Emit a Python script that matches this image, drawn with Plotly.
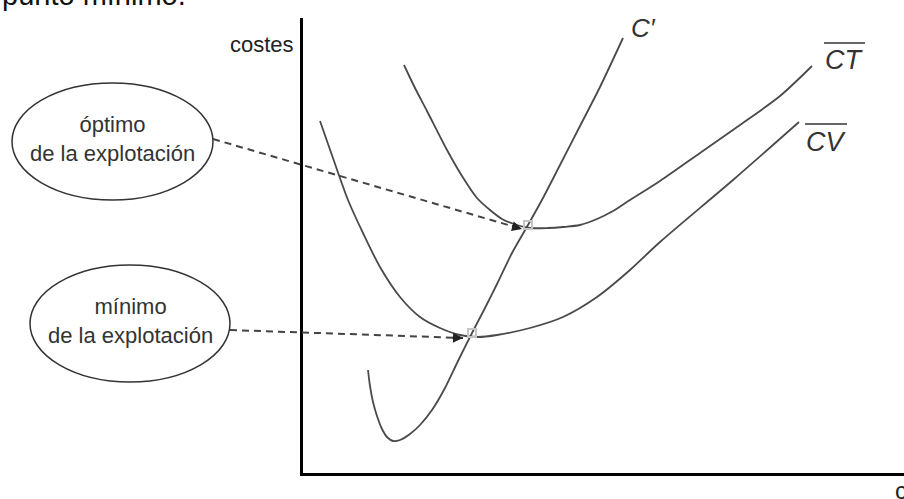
import plotly.graph_objects as go

# Curvas de costes (q = cantidad, c = costes)
cm_q = [6.5, 6.7, 7.0, 7.4, 7.9, 8.4, 9.0, 9.7, 10.7, 11.7, 12.9, 14.2, 15.5, 16.9,
        18.2, 19.4, 20.9, 22.5, 24.0, 25.7, 27.7, 29.7, 32.0]
cm_c = [10.3, 8.7, 7.1, 5.7, 4.4, 3.6, 3.2, 3.3, 3.9, 4.8, 6.3, 8.5, 11.2, 14.0,
        16.5, 18.9, 22.0, 24.8, 27.5, 30.8, 34.7, 38.6, 43.5]

ct_q = [10.1, 11.2, 12.4, 14.4, 15.9, 17.4, 18.7, 19.9, 21.4, 22.7, 24.5, 26.0,
        27.7, 29.4, 31.0, 32.7, 35.7, 39.7, 43.7, 47.7, 50.9]
ct_c = [40.8, 38.5, 36.2, 32.3, 29.7, 27.5, 26.3, 25.4, 24.8, 24.5, 24.5, 24.6,
        24.8, 25.4, 26.2, 27.3, 29.2, 32.0, 34.8, 37.7, 40.7]

cv_q = [1.7, 3.1, 4.5, 6.0, 7.7, 9.7, 11.7, 13.7, 15.7, 17.5, 19.4, 22.7, 26.0,
        29.4, 32.7, 35.7, 43.0, 49.6]
cv_c = [35.2, 31.2, 27.3, 24.0, 20.6, 17.6, 15.6, 14.5, 13.8, 13.6, 13.8, 14.5, 15.6,
        17.6, 20.3, 23.1, 29.3, 35.1]

# puntos senalados (optimo y minimo de la explotacion)
punto_q = [22.5, 16.9]
punto_c = [24.8, 14.0]
punto_txt = ["óptimo<br>de la explotación", "mínimo<br>de la explotación"]

Q_MAX, C_MAX = 60.1, 45.5
LINE = "#4a4a4a"
FONT = "Liberation Sans, Arial, sans-serif"


def px(q):
    return q / Q_MAX


def py(c):
    return c / C_MAX


fig = go.Figure()
for qs, cs in [(cm_q, cm_c), (ct_q, ct_c), (cv_q, cv_c)]:
    fig.add_trace(go.Scatter(x=qs, y=cs, mode="lines",
                             line=dict(color=LINE, width=1.8, shape="spline", smoothing=0.8),
                             hoverinfo="skip", showlegend=False))

fig.add_trace(go.Scatter(x=punto_q, y=punto_c, mode="markers",
                         marker=dict(symbol="square-open", size=8, color="#c4c4c4",
                                     line=dict(width=2)),
                         hoverinfo="skip", showlegend=False, cliponaxis=False))

shapes = []
annotations = []

# elipses con texto y flechas discontinuas
elipses = [(-29.1, -9.0, 27.3, 39.0), (-27.3, -7.3, 9.1, 20.8)]
origen = [(-9.0, 33.4), (-7.3, 14.3)]
destino = [(21.9, 24.4), (16.0, 13.5)]
for (x0, x1, y0, y1), txt, (oq, oc), (dq, dc) in zip(elipses, punto_txt, origen, destino):
    shapes.append(dict(type="circle", xref="paper", yref="paper",
                       x0=px(x0), x1=px(x1), y0=py(y0), y1=py(y1),
                       line=dict(color="#333", width=1.5)))
    annotations.append(dict(xref="paper", yref="paper", x=px((x0 + x1) / 2),
                            y=py((y0 + y1) / 2 + 0.3), text=txt, showarrow=False,
                            xanchor="center", yanchor="middle",
                            font=dict(family=FONT, size=22, color="#333")))
    shapes.append(dict(type="line", xref="paper", yref="paper",
                       x0=px(oq), y0=py(oc), x1=px(dq), y1=py(dc),
                       line=dict(color="#444", width=2, dash="7px,5px")))
    vq, vc = dq - oq, dc - oc
    n = (vq ** 2 + vc ** 2) ** 0.5
    annotations.append(dict(x=dq, y=dc, ax=dq - 1.2 * vq / n, ay=dc - 1.2 * vc / n,
                            xref="x", yref="y", axref="x", ayref="y", text="",
                            showarrow=True, arrowhead=2, arrowsize=1, arrowwidth=2,
                            arrowcolor="#222"))

# etiquetas de las curvas
annotations += [
    dict(x=34.0, y=44.5, text="<i>C′</i>", showarrow=False, xanchor="center",
         font=dict(family=FONT, size=26, color="#333")),
    dict(x=54.1, y=41.3, text="<i>CT</i>", showarrow=False, xanchor="center",
         font=dict(family=FONT, size=27, color="#333")),
    dict(x=52.3, y=33.1, text="<i>CV</i>", showarrow=False, xanchor="center",
         font=dict(family=FONT, size=27, color="#333")),
]
shapes += [
    dict(type="line", xref="x", yref="y", x0=52.1, x1=56.2, y0=43.0, y1=43.0,
         line=dict(color="#333", width=1.5)),
    dict(type="line", xref="x", yref="y", x0=50.2, x1=54.4, y0=34.9, y1=34.9,
         line=dict(color="#333", width=1.5)),
]

# rotulos de ejes y texto recortado del documento
annotations += [
    dict(xref="paper", yref="paper", x=px(-0.7), y=py(44.3), text="costes",
         xanchor="right", showarrow=False, font=dict(family=FONT, size=22, color="#222")),
    dict(xref="paper", yref="paper", x=px(59.0), y=py(-1.7), text="cantidad",
         xanchor="left", yanchor="middle", showarrow=False,
         font=dict(family=FONT, size=24, color="#222")),
    dict(xref="paper", yref="paper", x=px(-30.3), y=py(46.0), text="punto mínimo.",
         xanchor="left", yanchor="bottom", showarrow=False,
         font=dict(family=FONT, size=29, color="#111")),
]

fig.update_layout(
    width=904, height=499,
    margin=dict(l=303, r=0, t=18, b=26, pad=0),
    paper_bgcolor="white", plot_bgcolor="white",
    shapes=shapes, annotations=annotations,
    xaxis=dict(range=[0, Q_MAX], showgrid=False, zeroline=False, showticklabels=False,
               ticks="", showline=True, linewidth=3, linecolor="black"),
    yaxis=dict(range=[0, C_MAX], showgrid=False, zeroline=False, showticklabels=False,
               ticks="", showline=True, linewidth=3, linecolor="black"),
)

# sin margen del body para que la figura ocupe la ventana exacta
fig.write_html("out.html", config={"displayModeBar": False},
               post_script="document.body.style.margin='0';")
